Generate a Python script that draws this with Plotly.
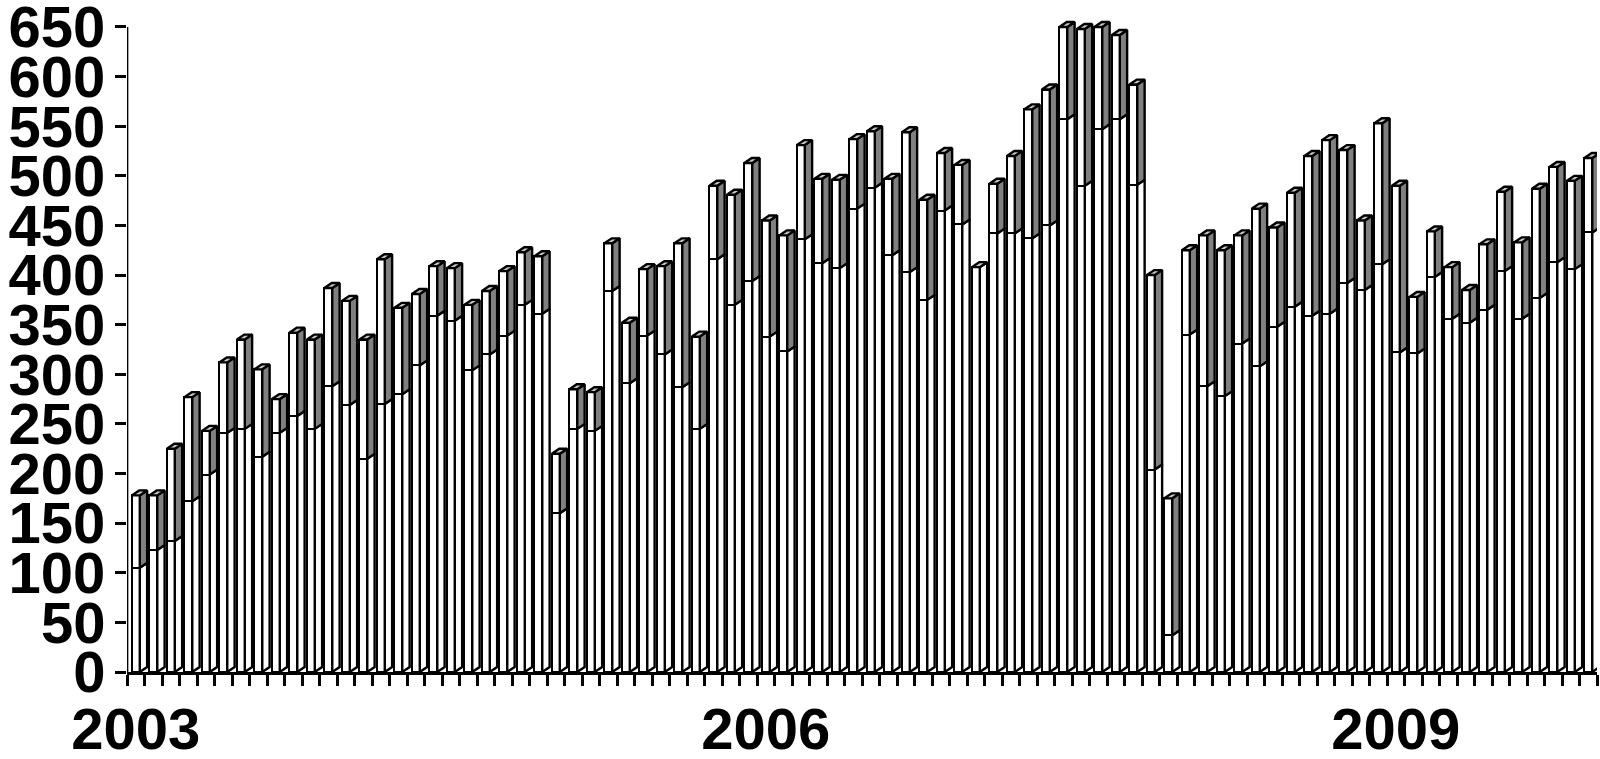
import plotly.graph_objects as go

years = ["2003", "2006", "2009"]
y_ticks = list(range(0, 651, 50))
lower = [105,123,132,172,199,241,245,217,241,258,245,288,269,215,270,280,309,359,354,304,320,339,370,361,
         160,245,243,384,291,339,320,287,245,416,370,394,338,323,436,412,407,467,488,420,403,375,465,451,
         408,442,442,437,450,557,490,547,557,491,204,37,340,288,278,331,308,348,368,359,361,392,385,411,
         322,321,398,356,352,365,404,356,377,413,406,443]
total = [178,178,225,277,243,312,335,305,275,342,335,387,374,335,416,367,381,409,407,370,384,404,423,419,
         220,285,282,432,352,406,409,432,338,490,481,513,455,440,531,497,496,537,545,497,544,476,523,511,
         408,492,520,567,587,650,648,650,642,592,400,175,425,440,425,440,467,448,483,520,536,526,455,553,
         490,378,444,408,385,431,484,433,487,509,495,518]

X0, W, DX, DY = 0.28, 0.45, 0.42, 5.0
xs = list(range(len(total)))
upper = [t - l for t, l in zip(total, lower)]
LINE = dict(color="black", width=2.4)

def poly(rows):
    px, py = [], []
    for r in rows:
        for a, b in r:
            px.append(a); py.append(b)
        px.append(None); py.append(None)
    return px, py

side_low = poly([[(i+X0+W, 0), (i+X0+W+DX, DY), (i+X0+W+DX, l+DY), (i+X0+W, l), (i+X0+W, 0)] for i, l in zip(xs, lower)])
side_up = poly([[(i+X0+W, l), (i+X0+W+DX, l+DY), (i+X0+W+DX, t+DY), (i+X0+W, t), (i+X0+W, l)] for i, l, t in zip(xs, lower, total)])
cap = poly([[(i+X0, t), (i+X0+DX, t+DY), (i+X0+W+DX, t+DY), (i+X0+W, t), (i+X0, t)] for i, t in zip(xs, total)])

fig = go.Figure()
for name, vals in (("lower", lower), ("upper", upper)):
    fig.add_bar(x=xs, y=vals, name=name, width=W, offset=X0, cliponaxis=False,
                marker=dict(color="white", line=LINE))
for p, col in ((side_low, "white"), (side_up, "#808080"), (cap, "#c8c8c8")):
    fig.add_scatter(x=p[0], y=p[1], mode="lines", fill="toself", fillcolor=col, line=LINE, cliponaxis=False)
# y-axis line stops at the top tick although the scale has headroom for the bar caps
fig.add_scatter(x=[0, 0], y=[y_ticks[0], y_ticks[-1]], mode="lines", line=dict(color="black", width=2.7), cliponaxis=False)

FONT = dict(family="Liberation Sans", size=58, color="black", weight="bold")
fig.update_layout(
    barmode="stack", bargap=0, showlegend=False, width=1600, height=759,
    paper_bgcolor="white", plot_bgcolor="white",
    margin=dict(l=127, r=3, t=13, b=87),
    xaxis=dict(range=[0, 84], tickmode="array", tickvals=[0.5, 36.5, 72.5], ticktext=years,
               ticks="", tickfont=FONT, showgrid=False, zeroline=False, showline=True, automargin=False,
               linecolor="black", linewidth=2.7, ticklabeloverflow="allow", ticklabelstandoff=5,
               minor=dict(tick0=0, dtick=1, ticks="outside", ticklen=11, tickwidth=2.7, tickcolor="black", showgrid=False)),
    yaxis=dict(range=[0, 664.1], tickmode="array", tickvals=y_ticks, ticks="outside", ticklen=11, tickwidth=2.7,
               tickcolor="black", tickfont=FONT, showgrid=False, zeroline=False, showline=False, automargin=False,
               ticklabeloverflow="allow", ticklabelstandoff=-2),
)
fig.write_html("out.html", config={"displayModeBar": False}, post_script="document.body.style.margin='0';")
